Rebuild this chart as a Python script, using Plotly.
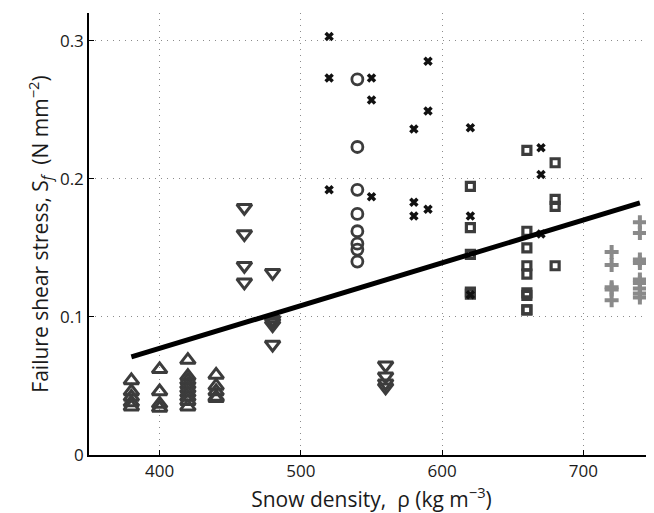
import plotly.graph_objects as go

# ---- data ----
tri_up_x = [380]*5 + [400]*4 + [420]*9 + [440]*5
tri_up_y = [0.054, 0.046, 0.042, 0.038, 0.035,
            0.062, 0.046, 0.037, 0.034,
            0.0687, 0.057, 0.054, 0.051, 0.048, 0.045, 0.042, 0.039, 0.035,
            0.058, 0.050, 0.046, 0.042, 0.041]

tri_dn_x = [460]*4 + [480]*5 + [560]*4
tri_dn_y = [0.179, 0.160, 0.137, 0.125,
            0.132, 0.098, 0.096, 0.094, 0.080,
            0.065, 0.057, 0.052, 0.049]

circ_x = [540]*8
circ_y = [0.272, 0.223, 0.192, 0.1745, 0.162, 0.153, 0.1487, 0.140]

cross_x = [520, 520, 520, 550, 550, 550, 580, 580, 580, 590, 590, 590,
           620, 620, 620, 670, 670, 670]
cross_y = [0.303, 0.273, 0.192, 0.273, 0.257, 0.187, 0.236, 0.183, 0.173,
           0.285, 0.249, 0.178, 0.237, 0.173, 0.116, 0.2225, 0.203, 0.160]

sq_x = [620]*5 + [660]*9 + [680]*4
sq_y = [0.1945, 0.1646, 0.1453, 0.118, 0.1165,
        0.2205, 0.162, 0.150, 0.137, 0.131, 0.1174, 0.1155, 0.105, 0.105,
        0.2116, 0.185, 0.180, 0.137]

plus_x = [720]*5 + [740]*9
plus_y = [0.147, 0.1376, 0.1215, 0.1198, 0.112,
          0.1685, 0.1607, 0.1415, 0.139, 0.127, 0.1246, 0.1205, 0.117, 0.114]

fit_x = [380, 740]
fit_y = [0.071, 0.1825]

x_ticks = [400, 500, 600, 700]
y_ticks = [0, 0.1, 0.2, 0.3]
y_tick_text = ["0", "0.1", "0.2", "0.3"]

DARK = "#3c3c3c"

fig = go.Figure()
fig.add_trace(go.Scatter(x=tri_up_x, y=tri_up_y, mode="markers",
    marker=dict(symbol="triangle-up-open", size=13, color=DARK, line=dict(width=3, color=DARK))))
fig.add_trace(go.Scatter(x=tri_dn_x, y=tri_dn_y, mode="markers",
    marker=dict(symbol="triangle-down-open", size=13, color=DARK, line=dict(width=3, color=DARK))))
fig.add_trace(go.Scatter(x=circ_x, y=circ_y, mode="markers",
    marker=dict(symbol="circle-open", size=11, color=DARK, line=dict(width=2.8, color=DARK))))
fig.add_trace(go.Scatter(x=sq_x, y=sq_y, mode="markers",
    marker=dict(symbol="square-open", size=8, color=DARK, line=dict(width=3.2, color=DARK))))
fig.add_trace(go.Scatter(x=cross_x, y=cross_y, mode="markers",
    marker=dict(symbol="x-thin", size=7, color="#111111", line=dict(width=3.5, color="#111111"))))
fig.add_trace(go.Scatter(x=plus_x, y=plus_y, mode="markers",
    marker=dict(symbol="cross-thin", size=10, color="#8a8a8a", line=dict(width=4, color="#8a8a8a"))))
fig.add_trace(go.Scatter(x=fit_x, y=fit_y, mode="lines",
    line=dict(color="black", width=5)))

FONT = "Open Sans"
GRID = dict(showgrid=True, gridcolor="#8c8c8c", griddash="1px,5px", gridwidth=1)
fig.update_layout(
    width=646, height=505,
    margin=dict(l=81, r=0, t=5, b=58, autoexpand=False),
    paper_bgcolor="white", plot_bgcolor="white",
    showlegend=False,
    font=dict(family=FONT, size=17, color="#1a1a1a"),
    xaxis=dict(range=[350, 750], tickvals=x_ticks, ticks="inside", ticklen=5,
               tickcolor="black", showline=True, linecolor="black", linewidth=1.5,
               zeroline=False, tickfont=dict(size=17), automargin=False,
               title=dict(text="Snow density,  ρ (kg m<sup>−3</sup>)", font=dict(size=21), standoff=7),
               **GRID),
    yaxis=dict(range=[0, 0.32], tickvals=y_ticks, ticktext=y_tick_text, ticks="inside", ticklen=5,
               tickcolor="black", showline=True, linecolor="black", linewidth=1.5,
               zeroline=False, tickfont=dict(size=17), automargin=False,
               title=dict(text="Failure shear stress, S<sub><i>f</i></sub>  (N mm<sup>−2</sup>)",
                          font=dict(size=21), standoff=6),
               **GRID),
)
fig.write_html("out.html")
